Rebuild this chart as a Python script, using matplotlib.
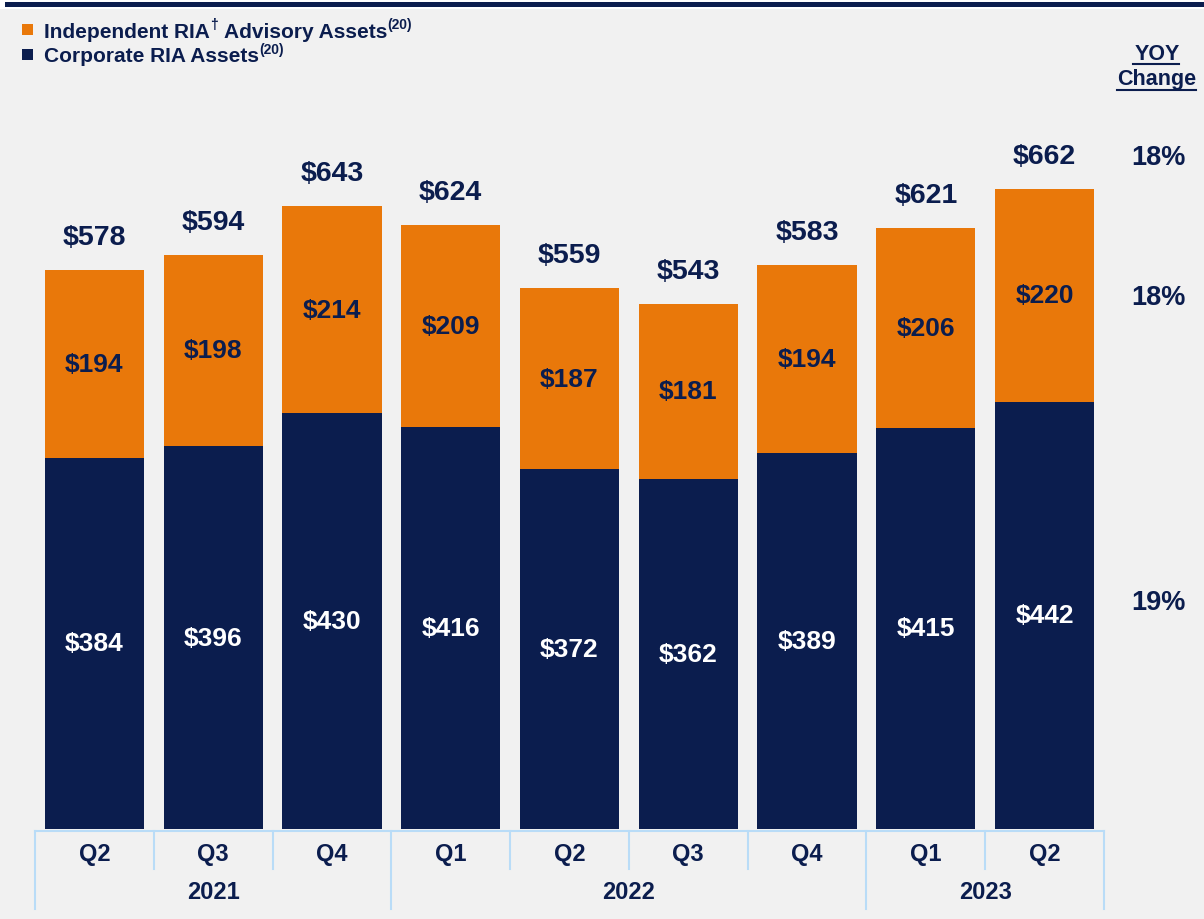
import matplotlib.pyplot as plt
from matplotlib.patches import Rectangle
from matplotlib.lines import Line2D

plt.rcParams['font.family'] = ['Liberation Sans', 'DejaVu Sans']

quarters = ["Q2", "Q3", "Q4", "Q1", "Q2", "Q3", "Q4", "Q1", "Q2"]
years = ["2021", "2022", "2023"]
year_spans = [(0, 2), (3, 6), (7, 8)]
corporate = [384, 396, 430, 416, 372, 362, 389, 415, 442]
independent = [194, 198, 214, 209, 187, 181, 194, 206, 220]
totals = [578, 594, 643, 624, 559, 543, 583, 621, 662]
yoy = ["18%", "18%", "19%"]

NAVY = "#0b1d4e"
ORANGE = "#e9780a"
GRID = "#b9dcf7"
BG = "#f1f1f1"

W, H = 1204, 920
fig = plt.figure(figsize=(W / 100, H / 100), dpi=100)
fig.patch.set_facecolor(BG)
renderer = fig.canvas.get_renderer()

# top band
fig.patches.append(Rectangle((0, 1 - 10 / H), 1, 10 / H, transform=fig.transFigure,
                             facecolor="white", edgecolor="none"))
fig.patches.append(Rectangle((5 / W, 1 - 8 / H), 1, 5 / H, transform=fig.transFigure,
                             facecolor=NAVY, edgecolor="none"))

ax_h = 830
ax = fig.add_axes([35 / W, (H - 830) / H, (1104 - 35) / W, ax_h / H])
ax.set_facecolor(BG)
ax.set_xlim(-0.5, len(quarters) - 0.5)
ax.set_ylim(0, 830 / 0.967)
for s in ax.spines.values():
    s.set_visible(False)
ax.set_xticks([])
ax.set_yticks([])

x = range(len(quarters))
bw = 0.835
ax.bar(x, corporate, width=bw, color=NAVY)
ax.bar(x, independent, width=bw, bottom=corporate, color=ORANGE)

for i in x:
    ax.text(i, corporate[i] / 2, f"${corporate[i]}", ha="center", va="center",
            color="white", fontsize=19, fontweight="bold")
    ax.text(i, corporate[i] + independent[i] / 2, f"${independent[i]}", ha="center",
            va="center", color=NAVY, fontsize=19, fontweight="bold")
    ax.annotate(f"${totals[i]}", (i, corporate[i] + independent[i]), xytext=(0, 33),
                textcoords="offset pixels", ha="center", va="center",
                color=NAVY, fontsize=20.5, fontweight="bold")

# category table under the bars
tr = ax.get_xaxis_transform()
px = lambda p: -p / ax_h
ax.add_line(Line2D([-0.5, len(quarters) - 0.5], [px(2), px(2)], transform=tr,
                   color=GRID, lw=1.5, clip_on=False))
bounds = [s for s, _ in year_spans] + [len(quarters)]
for b in range(len(quarters) + 1):
    depth = 80 if b in bounds else 40
    ax.add_line(Line2D([b - 0.5, b - 0.5], [px(2), px(depth)], transform=tr,
                       color=GRID, lw=1.5, clip_on=False))
for i, q in enumerate(quarters):
    ax.text(i, px(25), q, transform=tr, ha="center", va="center",
            color=NAVY, fontsize=17, fontweight="bold")
for yr, (a, b) in zip(years, year_spans):
    ax.text((a + b) / 2, px(63), yr, transform=tr, ha="center", va="center",
            color=NAVY, fontsize=17, fontweight="bold")

# legend: text pieces with small raised superscripts
legend_parts = [
    [("Independent RIA", False), ("\u2020", True), (" Advisory Assets", False), ("(20)", True)],
    [("Corporate RIA Assets", False), ("(20)", True)],
]
legend_colors = [ORANGE, NAVY]
for k, (parts, col) in enumerate(zip(legend_parts, legend_colors)):
    yc = H - (30 + 25 * k)
    fig.patches.append(Rectangle((22 / W, (yc - 5.5) / H), 11 / W, 11 / H,
                                 transform=fig.transFigure, facecolor=col, edgecolor="none"))
    xp = 44
    for txt, sup in parts:
        t = fig.text(xp / W, (yc + (5 if sup else 0)) / H, txt, ha="left",
                     va="center_baseline" if not sup else "center",
                     color=NAVY, fontsize=10 if sup else 15, fontweight="bold")
        xp += t.get_window_extent(renderer).width + (1 if sup else 0)

# YOY column
fig.text(1157 / W, 1 - 54 / H, "YOY", ha="center", va="center", color=NAVY,
         fontsize=15.5, fontweight="bold")
fig.text(1157 / W, 1 - 80 / H, "Change", ha="center", va="center", color=NAVY,
         fontsize=15.5, fontweight="bold")
fig.add_artist(Line2D([1133 / W, 1179 / W], [1 - 65 / H] * 2, color=NAVY, lw=1.5))
fig.add_artist(Line2D([1117 / W, 1196 / W], [1 - 91 / H] * 2, color=NAVY, lw=1.5))
for val, yp in zip(yoy, [158, 298, 603]):
    fig.text(1158 / W, 1 - yp / H, val, ha="center", va="center", color=NAVY,
             fontsize=19.5, fontweight="bold")

fig.savefig("out.png", dpi=100, facecolor=fig.get_facecolor())
